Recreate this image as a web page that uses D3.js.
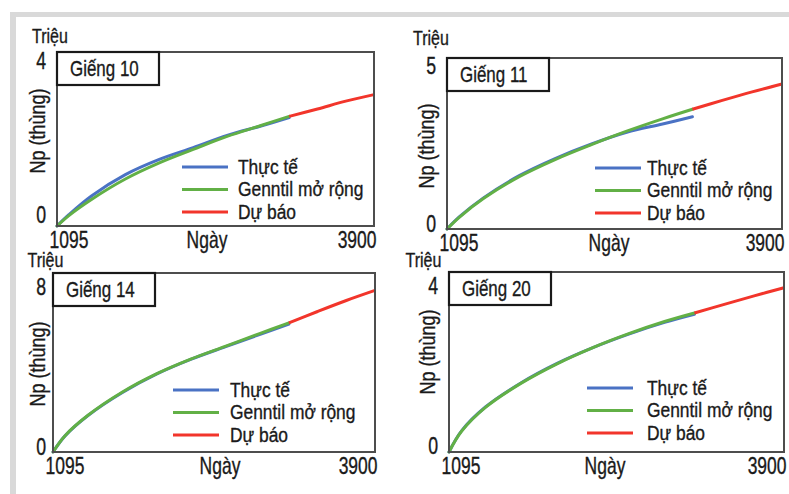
<!DOCTYPE html>
<html>
<head>
<meta charset="utf-8">
<script src="https://cdn.jsdelivr.net/npm/d3@7/dist/d3.min.js"></script>
<style>
  html, body { margin: 0; padding: 0; background: #ffffff; }
  svg text { font-family: "Liberation Sans", Arial, sans-serif; fill: #1a1a1a; stroke: #1a1a1a; stroke-width: 0.35px; }
</style>
</head>
<body>
<svg id="chart" width="789" height="494"></svg>
<script>
// ---- data: cumulative oil production Np (million barrels) vs. day ----
const wellNames = ["Giếng 10", "Giếng 11", "Giếng 14", "Giếng 20"];
const yMaxes = [4, 5, 8, 4];
const xTicks = [1095, 3900];
const seriesNames = ["Thực tế", "Genntil mở rộng", "Dự báo"];

const histDays = [1095, 1200, 1400, 1700, 2000, 2300, 2600, 2900, 3150];
const fcstDays = [3150, 3400, 3650, 3900];

const actual10   = [0, 0.26, 0.69, 1.18, 1.53, 1.80, 2.08, 2.30, 2.49];
const gentil10   = [0, 0.24, 0.61, 1.08, 1.45, 1.76, 2.06, 2.31, 2.52];
const forecast10 = [2.52, 2.69, 2.87, 3.02];

const actual11   = [0, 0.36, 0.91, 1.56, 2.06, 2.48, 2.83, 3.07, 3.28];
const gentil11   = [0, 0.35, 0.89, 1.53, 2.03, 2.46, 2.86, 3.22, 3.50];
const forecast11 = [3.50, 3.76, 4.01, 4.24];

const actual14   = [0, 0.72, 1.63, 2.66, 3.49, 4.15, 4.71, 5.26, 5.72];
const gentil14   = [0, 0.73, 1.64, 2.68, 3.50, 4.16, 4.73, 5.30, 5.77];
const forecast14 = [5.77, 6.28, 6.77, 7.22];

const actual20   = [0, 0.47, 1.00, 1.54, 1.97, 2.32, 2.62, 2.88, 3.06];
const gentil20   = [0, 0.46, 0.99, 1.53, 1.96, 2.32, 2.63, 2.90, 3.09];
const forecast20 = [3.09, 3.28, 3.47, 3.65];

const actualSets   = [actual10, actual11, actual14, actual20];
const gentilSets   = [gentil10, gentil11, gentil14, gentil20];
const forecastSets = [forecast10, forecast11, forecast14, forecast20];

// ---- layout of the four panels ----
const panels = [
  { x0: 57,  y0: 52,  x1: 374, y1: 226, tickOff: [8, -12], trieu: [50, 43],     np: [37, 131],  yPad: 11, leg: [182, 167], legText: 238, ngay: 207 },
  { x0: 447, y0: 58,  x1: 782, y1: 229, tickOff: [7, -6],  trieu: [431, 45],    np: [426, 146], yPad: 11, leg: [595, 168], legText: 647, ngay: 609 },
  { x0: 53,  y0: 273, x1: 375, y1: 452, tickOff: [13, -6], trieu: [45.5, 267.5],  np: [37, 364],  yPad: 7,  leg: [173, 390], legText: 230, ngay: 220 },
  { x0: 449, y0: 272, x1: 784, y1: 452, tickOff: [13, -7], trieu: [423.5, 267.5], np: [427, 352], yPad: 11, leg: [587, 388], legText: 647, ngay: 605 }
];

const colors = { actual: "#4a72c4", gentil: "#62b046", forecast: "#f2352b" };
const legendColors = [colors.actual, colors.gentil, colors.forecast];

// squeeze glyphs horizontally about their anchor point to get a condensed face
function condense(sel, factor, base) {
  sel.each(function () {
    const ax = +(this.getAttribute("x") || 0);
    const pre = base ? base + " " : "";
    this.setAttribute("transform",
      `${pre}translate(${ax},0) scale(${factor},1) translate(${-ax},0)`);
  });
  return sel;
}

const svg = d3.select("#chart");

// grey frame along the top and left edges
svg.append("rect").attr("x", 10).attr("y", 12).attr("width", 779).attr("height", 5).attr("fill", "#d9d9d9");
svg.append("rect").attr("x", 10).attr("y", 12).attr("width", 6).attr("height", 482).attr("fill", "#d9d9d9");

panels.forEach((p, i) => {
  const g = svg.append("g");
  const x = d3.scaleLinear().domain([xTicks[0], xTicks[1]]).range([p.x0, p.x1]);
  const y = d3.scaleLinear().domain([0, yMaxes[i]]).range([p.y1, p.y0]);

  const line = d3.line().x(d => x(d[0])).y(d => y(d[1])).curve(d3.curveCatmullRom.alpha(0.5));
  const hist = (vals) => histDays.map((d, k) => [d, vals[k]]);
  const fc = fcstDays.map((d, k) => [d, forecastSets[i][k]]);

  // series
  g.append("path").attr("d", line(hist(actualSets[i]))).attr("fill", "none")
    .attr("stroke", colors.actual).attr("stroke-width", 3).attr("stroke-linecap", "round");
  g.append("path").attr("d", line(hist(gentilSets[i]))).attr("fill", "none")
    .attr("stroke", colors.gentil).attr("stroke-width", 3).attr("stroke-linecap", "round");
  g.append("path").attr("d", line(fc)).attr("fill", "none")
    .attr("stroke", colors.forecast).attr("stroke-width", 3).attr("stroke-linecap", "butt");

  // plot frame
  g.append("rect").attr("x", p.x0).attr("y", p.y0)
    .attr("width", p.x1 - p.x0).attr("height", p.y1 - p.y0)
    .attr("fill", "none").attr("stroke", "#4d4d4d").attr("stroke-width", 2);

  // y axis
  const ya = g.append("g").attr("transform", `translate(${p.x0},0)`)
    .call(d3.axisLeft(y).tickValues([0, yMaxes[i]]).tickSize(0).tickPadding(p.yPad).tickFormat(d3.format("d")));
  ya.select(".domain").remove();
  condense(ya.selectAll("text").style("font-size", "23px").attr("fill", "#1a1a1a")
    .attr("y", d => d === 0 ? p.tickOff[1] : p.tickOff[0]).attr("dy", "0.36em"), 0.77);

  // x axis
  const xa = g.append("g").attr("transform", `translate(0,${p.y1})`)
    .call(d3.axisBottom(x).tickValues(xTicks).tickSize(0).tickPadding(6).tickFormat(d3.format("d")));
  xa.select(".domain").remove();
  condense(xa.selectAll("text").style("font-size", "23px").attr("fill", "#1a1a1a")
    .attr("text-anchor", d => d === xTicks[0] ? "start" : "end")
    .attr("x", d => d === xTicks[0] ? -8 : 2), 0.76);

  condense(g.append("text").attr("x", p.ngay).attr("y", p.y1 + 6).attr("dy", "0.71em")
    .attr("text-anchor", "middle").style("font-size", "23px").text("Ngày"), 0.76);

  // unit and axis title
  condense(g.append("text").attr("x", p.trieu[0]).attr("y", p.trieu[1])
    .attr("text-anchor", "middle").style("font-size", "20px").text("Triệu"), 0.8);
  condense(g.append("text").attr("x", 0).attr("y", 0)
    .attr("text-anchor", "middle").attr("dy", "0.35em").style("font-size", "22px").text("Np (thùng)"),
    0.82, `translate(${p.np[0]},${p.np[1]}) rotate(-90)`);

  // well name box
  g.append("rect").attr("x", p.x0).attr("y", p.y0).attr("width", 102).attr("height", 33)
    .attr("fill", "#ffffff").attr("stroke", "#1a1a1a").attr("stroke-width", 2.2);
  condense(g.append("text").attr("x", p.x0 + 13).attr("y", p.y0 + 16).attr("dy", "0.36em")
    .style("font-size", "22px").text(wellNames[i]), 0.77);

  // legend
  seriesNames.forEach((name, k) => {
    const ly = p.leg[1] + k * 22.5;
    g.append("line").attr("x1", p.leg[0]).attr("x2", p.leg[0] + 46)
      .attr("y1", ly).attr("y2", ly).attr("stroke", legendColors[k]).attr("stroke-width", 3);
    condense(g.append("text").attr("x", p.legText).attr("y", ly).attr("dy", "0.35em")
      .style("font-size", "20px").text(name), 0.87);
  });
});
</script>
</body>
</html>
